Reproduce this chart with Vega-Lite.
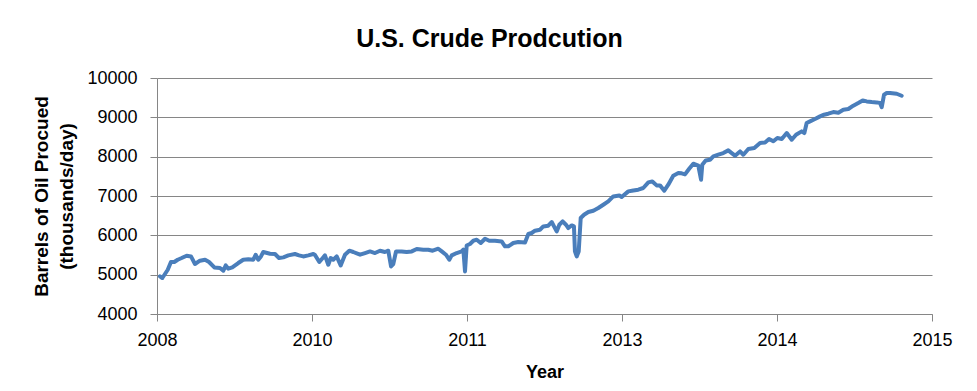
{
  "$schema": "https://vega.github.io/schema/vega-lite/v6.json",
  "width": 775,
  "height": 236,
  "autosize": {"type": "none"},
  "padding": {"left": 157, "top": 78, "right": 45, "bottom": 77},
  "background": "white",
  "title": {
    "text": "U.S. Crude Prodcution",
    "font": "Liberation Sans",
    "fontSize": 25,
    "fontWeight": "bold",
    "color": "#000000",
    "anchor": "middle",
    "dx": -55,
    "offset": -3,
    "baseline": "alphabetic"
  },
  "config": {
    "view": {"stroke": null},
    "axis": {
      "labelFont": "Liberation Sans",
      "labelFontSize": 18,
      "labelColor": "#000000",
      "titleFont": "Liberation Sans",
      "titleFontSize": 18,
      "titleFontWeight": "bold",
      "titleColor": "#000000",
      "domainColor": "#868686",
      "tickColor": "#868686",
      "gridColor": "#868686",
      "domainWidth": 1,
      "tickWidth": 1,
      "gridWidth": 1
    }
  },
  "data": {
    "values": [
      {"Year": 2008.427, "Production": 4956},
      {"Year": 2008.448, "Production": 4915},
      {"Year": 2008.472, "Production": 5017},
      {"Year": 2008.497, "Production": 5126},
      {"Year": 2008.526, "Production": 5322},
      {"Year": 2008.556, "Production": 5322},
      {"Year": 2008.587, "Production": 5380},
      {"Year": 2008.623, "Production": 5423},
      {"Year": 2008.668, "Production": 5482},
      {"Year": 2008.707, "Production": 5464},
      {"Year": 2008.743, "Production": 5271},
      {"Year": 2008.788, "Production": 5355},
      {"Year": 2008.834, "Production": 5380},
      {"Year": 2008.870, "Production": 5322},
      {"Year": 2008.918, "Production": 5185},
      {"Year": 2008.969, "Production": 5169},
      {"Year": 2008.999, "Production": 5100},
      {"Year": 2009.021, "Production": 5235},
      {"Year": 2009.044, "Production": 5151},
      {"Year": 2009.080, "Production": 5185},
      {"Year": 2009.134, "Production": 5296},
      {"Year": 2009.179, "Production": 5380},
      {"Year": 2009.225, "Production": 5390},
      {"Year": 2009.270, "Production": 5380},
      {"Year": 2009.291, "Production": 5507},
      {"Year": 2009.315, "Production": 5380},
      {"Year": 2009.339, "Production": 5464},
      {"Year": 2009.360, "Production": 5576},
      {"Year": 2009.421, "Production": 5533},
      {"Year": 2009.466, "Production": 5525},
      {"Year": 2009.502, "Production": 5423},
      {"Year": 2009.541, "Production": 5440},
      {"Year": 2009.586, "Production": 5490},
      {"Year": 2009.646, "Production": 5525},
      {"Year": 2009.683, "Production": 5490},
      {"Year": 2009.721, "Production": 5464},
      {"Year": 2009.767, "Production": 5490},
      {"Year": 2009.812, "Production": 5525},
      {"Year": 2009.827, "Production": 5500},
      {"Year": 2009.866, "Production": 5322},
      {"Year": 2009.897, "Production": 5423},
      {"Year": 2009.917, "Production": 5490},
      {"Year": 2009.947, "Production": 5253},
      {"Year": 2009.969, "Production": 5423},
      {"Year": 2009.992, "Production": 5380},
      {"Year": 2010.023, "Production": 5464},
      {"Year": 2010.059, "Production": 5236},
      {"Year": 2010.098, "Production": 5507},
      {"Year": 2010.137, "Production": 5609},
      {"Year": 2010.173, "Production": 5576},
      {"Year": 2010.234, "Production": 5507},
      {"Year": 2010.279, "Production": 5550},
      {"Year": 2010.324, "Production": 5591},
      {"Year": 2010.369, "Production": 5550},
      {"Year": 2010.414, "Production": 5609},
      {"Year": 2010.459, "Production": 5576},
      {"Year": 2010.489, "Production": 5609},
      {"Year": 2010.514, "Production": 5210},
      {"Year": 2010.534, "Production": 5270},
      {"Year": 2010.559, "Production": 5591},
      {"Year": 2010.610, "Production": 5591},
      {"Year": 2010.655, "Production": 5576},
      {"Year": 2010.701, "Production": 5591},
      {"Year": 2010.746, "Production": 5652},
      {"Year": 2010.805, "Production": 5635},
      {"Year": 2010.850, "Production": 5635},
      {"Year": 2010.890, "Production": 5609},
      {"Year": 2010.941, "Production": 5660},
      {"Year": 2010.972, "Production": 5591},
      {"Year": 2011.010, "Production": 5507},
      {"Year": 2011.040, "Production": 5380},
      {"Year": 2011.062, "Production": 5490},
      {"Year": 2011.107, "Production": 5550},
      {"Year": 2011.152, "Production": 5591},
      {"Year": 2011.167, "Production": 5635},
      {"Year": 2011.182, "Production": 5083},
      {"Year": 2011.197, "Production": 5740},
      {"Year": 2011.227, "Production": 5780},
      {"Year": 2011.257, "Production": 5863},
      {"Year": 2011.288, "Production": 5889},
      {"Year": 2011.324, "Production": 5805},
      {"Year": 2011.363, "Production": 5914},
      {"Year": 2011.401, "Production": 5863},
      {"Year": 2011.453, "Production": 5863},
      {"Year": 2011.513, "Production": 5846},
      {"Year": 2011.543, "Production": 5720},
      {"Year": 2011.573, "Production": 5720},
      {"Year": 2011.618, "Production": 5805},
      {"Year": 2011.663, "Production": 5830},
      {"Year": 2011.724, "Production": 5820},
      {"Year": 2011.754, "Production": 6034},
      {"Year": 2011.784, "Production": 6059},
      {"Year": 2011.814, "Production": 6118},
      {"Year": 2011.859, "Production": 6143},
      {"Year": 2011.889, "Production": 6227},
      {"Year": 2011.934, "Production": 6245},
      {"Year": 2011.965, "Production": 6339},
      {"Year": 2011.986, "Production": 6227},
      {"Year": 2012.010, "Production": 6100},
      {"Year": 2012.034, "Production": 6270},
      {"Year": 2012.064, "Production": 6354},
      {"Year": 2012.094, "Production": 6270},
      {"Year": 2012.115, "Production": 6186},
      {"Year": 2012.146, "Production": 6252},
      {"Year": 2012.166, "Production": 6227},
      {"Year": 2012.175, "Production": 5591},
      {"Year": 2012.191, "Production": 5464},
      {"Year": 2012.209, "Production": 5591},
      {"Year": 2012.227, "Production": 6440},
      {"Year": 2012.257, "Production": 6524},
      {"Year": 2012.296, "Production": 6593},
      {"Year": 2012.341, "Production": 6626},
      {"Year": 2012.386, "Production": 6694},
      {"Year": 2012.431, "Production": 6778},
      {"Year": 2012.476, "Production": 6862},
      {"Year": 2012.521, "Production": 6989},
      {"Year": 2012.576, "Production": 7015},
      {"Year": 2012.597, "Production": 6974},
      {"Year": 2012.657, "Production": 7117},
      {"Year": 2012.702, "Production": 7142},
      {"Year": 2012.747, "Production": 7160},
      {"Year": 2012.792, "Production": 7203},
      {"Year": 2012.838, "Production": 7345},
      {"Year": 2012.874, "Production": 7371},
      {"Year": 2012.913, "Production": 7270},
      {"Year": 2012.943, "Production": 7270},
      {"Year": 2012.982, "Production": 7134},
      {"Year": 2013.018, "Production": 7287},
      {"Year": 2013.063, "Production": 7516},
      {"Year": 2013.109, "Production": 7584},
      {"Year": 2013.139, "Production": 7576},
      {"Year": 2013.169, "Production": 7550},
      {"Year": 2013.205, "Production": 7686},
      {"Year": 2013.244, "Production": 7821},
      {"Year": 2013.289, "Production": 7770},
      {"Year": 2013.314, "Production": 7414},
      {"Year": 2013.325, "Production": 7795},
      {"Year": 2013.356, "Production": 7905},
      {"Year": 2013.395, "Production": 7922},
      {"Year": 2013.425, "Production": 8006},
      {"Year": 2013.470, "Production": 8050},
      {"Year": 2013.515, "Production": 8092},
      {"Year": 2013.560, "Production": 8160},
      {"Year": 2013.591, "Production": 8092},
      {"Year": 2013.621, "Production": 8025},
      {"Year": 2013.666, "Production": 8133},
      {"Year": 2013.696, "Production": 8050},
      {"Year": 2013.741, "Production": 8194},
      {"Year": 2013.795, "Production": 8220},
      {"Year": 2013.847, "Production": 8347},
      {"Year": 2013.892, "Production": 8362},
      {"Year": 2013.928, "Production": 8449},
      {"Year": 2013.967, "Production": 8390},
      {"Year": 2014.003, "Production": 8474},
      {"Year": 2014.043, "Production": 8449},
      {"Year": 2014.088, "Production": 8601},
      {"Year": 2014.133, "Production": 8431},
      {"Year": 2014.172, "Production": 8558},
      {"Year": 2014.223, "Production": 8643},
      {"Year": 2014.247, "Production": 8601},
      {"Year": 2014.268, "Production": 8855},
      {"Year": 2014.298, "Production": 8897},
      {"Year": 2014.343, "Production": 8957},
      {"Year": 2014.389, "Production": 9024},
      {"Year": 2014.425, "Production": 9067},
      {"Year": 2014.463, "Production": 9092},
      {"Year": 2014.509, "Production": 9135},
      {"Year": 2014.554, "Production": 9118},
      {"Year": 2014.599, "Production": 9194},
      {"Year": 2014.644, "Production": 9211},
      {"Year": 2014.689, "Production": 9296},
      {"Year": 2014.734, "Production": 9364},
      {"Year": 2014.774, "Production": 9430},
      {"Year": 2014.810, "Production": 9405},
      {"Year": 2014.855, "Production": 9389},
      {"Year": 2014.900, "Production": 9380},
      {"Year": 2014.930, "Production": 9364},
      {"Year": 2014.946, "Production": 9260},
      {"Year": 2014.967, "Production": 9575},
      {"Year": 2014.991, "Production": 9618},
      {"Year": 2015.021, "Production": 9618},
      {"Year": 2015.081, "Production": 9600},
      {"Year": 2015.126, "Production": 9549}
    ]
  },
  "mark": {
    "type": "line",
    "color": "#4A7EBB",
    "strokeWidth": 4,
    "strokeJoin": "round",
    "strokeCap": "round"
  },
  "encoding": {
    "x": {
      "field": "Year",
      "type": "quantitative",
      "scale": {"domain": [2008.4, 2015.4], "nice": false, "zero": false},
      "axis": {
        "title": "Year",
        "values": [2008.4, 2009.8, 2011.2, 2012.6, 2014.0, 2015.4],
        "format": ".0f",
        "grid": false,
        "tickSize": 7,
        "labelPadding": 10,
        "titlePadding": 14,
        "labelFlush": false,
        "labelOverlap": false
      }
    },
    "y": {
      "field": "Production",
      "type": "quantitative",
      "scale": {"domain": [4000, 10000], "nice": false, "zero": false},
      "axis": {
        "title": ["Barrels of Oil Procued", "(thousands/day)"],
        "titleFontSize": 19,
        "titleLineHeight": 25,
        "values": [4000, 5000, 6000, 7000, 8000, 9000, 10000],
        "format": "d",
        "grid": true,
        "tickSize": 7,
        "labelPadding": 13,
        "titlePadding": 10
      }
    }
  }
}
